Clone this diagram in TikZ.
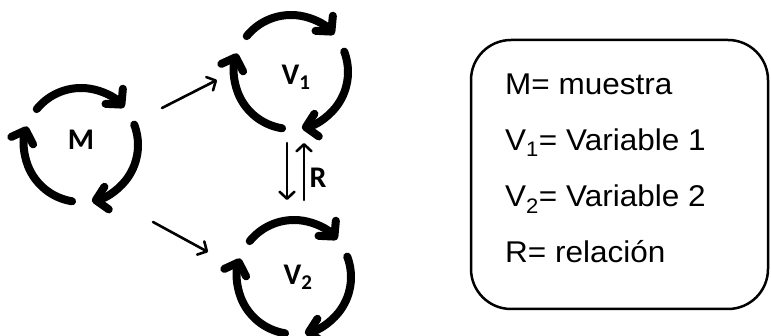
\documentclass[tikz,border=0pt]{standalone}
\usepackage{fontspec}
\setmainfont{Liberation Sans}
\newfontfamily\ringfont{Carlito}[BoldFont={* Bold}]
\newfontfamily\legendfont{Liberation Sans}[FakeStretch=1.05]
\usetikzlibrary{arrows.meta,calc}
\tikzset{
  cyclearc/.style={line width=8pt, line cap=round, -{Straight Barb[round, length=11pt, width=23pt]}},
  linkarrow/.style={line width=2.6pt, line cap=round, -{Straight Barb[round, length=7pt, width=15pt]}},
  ringlabel/.style={font=\ringfont\bfseries\fontsize{30}{30}\selectfont, inner sep=0pt},
  legendbox/.style={draw, line width=2.5pt, rounded corners=40pt, minimum width=297pt, minimum height=269pt},
  legendtext/.style={font=\legendfont\fontsize{30}{30}\selectfont, inner sep=0pt},
}

\begin{document}
\begin{tikzpicture}[x=1pt, y=1pt]
  \useasboundingbox (0,0) rectangle (771,336);
  % Cycles
  \coordinate (cM)  at ( 81,191);
  \coordinate (cV1) at (291,264);
  \coordinate (cV2) at (294, 59);
  \foreach \c in {cM, cV1, cV2}
    \foreach \a in {141, 21, -99}
      \draw[cyclearc] ($(\c)+(\a:57pt)$) arc[start angle=\a, delta angle=-100, radius=57pt];
  % Labels
  \node[ringlabel] (M)  at ( 81,196) {M};
  \node[ringlabel] (V1) at (296,259) {V\textsubscript{1}};
  \node[ringlabel] (V2) at (298, 59) {V\textsubscript{2}};
  \node[ringlabel] (R)  at (318,158) {R};
  % Links
  \coordinate (mv1a) at (162,228);
  \coordinate (mv1b) at (217,256);
  \coordinate (mv2a) at (153,114);
  \coordinate (mv2b) at (208, 84);
  \coordinate (downa) at (287,193);
  \coordinate (downb) at (287,136);
  \coordinate (upa) at (304,136);
  \coordinate (upb) at (304,193);
  \draw[linkarrow] (mv1a) -- (mv1b);
  \draw[linkarrow] (mv2a) -- (mv2b);
  \draw[linkarrow] (downa) -- (downb);
  \draw[linkarrow] (upa) -- (upb);
  % Legend
  \node[legendbox] (legend) at (619.5,161.5) {};
  \foreach \txt [count=\i] in {M= muestra, V\textsubscript{1}= Variable 1, V\textsubscript{2}= Variable 2, R= relación}
    \node[legendtext, anchor=base west] (line\i) at (505,{241-56*(\i-1)}) {\txt};
\end{tikzpicture}
\end{document}
